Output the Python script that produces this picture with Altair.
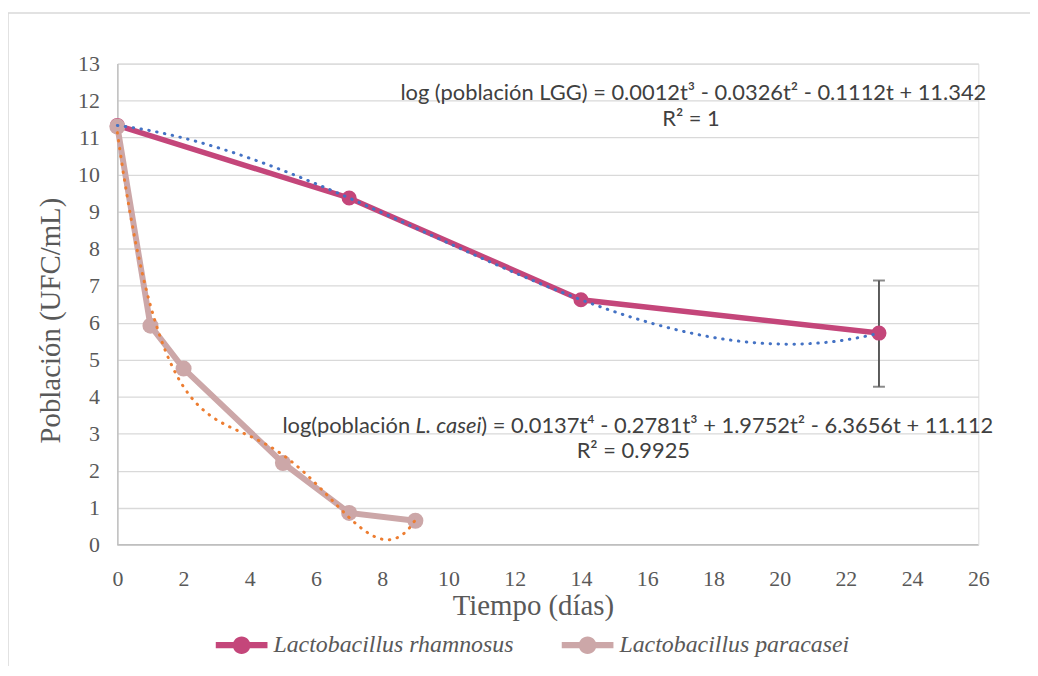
import altair as alt
import pandas as pd

# ---- data ----
rham_t = [0, 7, 14, 23]
rham_v = [11.33, 9.37, 6.62, 5.72]
casei_t = [0, 1, 2, 5, 7, 9]
casei_v = [11.30, 5.92, 4.76, 2.21, 0.86, 0.65]
err_t = [23]
err_lo = [4.27]
err_hi = [7.14]
x_ticks = list(range(0, 27, 2))
y_ticks = list(range(0, 14))
series_names = ["Lactobacillus rhamnosus", "Lactobacillus paracasei"]
series_colors = ["#C4467A", "#CCA7A8"]
trend_colors = ["#4472C4", "#ED7D31"]
eq_lgg = "log (población LGG) = 0.0012t³ - 0.0326t² - 0.1112t + 11.342"
r2_lgg = "R² = 1"
eq_casei_a = "log(población "
eq_casei_b = "L. casei"
eq_casei_c = ") = 0.0137t⁴ - 0.2781t³ + 1.9752t² - 6.3656t + 11.112"
r2_casei = "R² = 0.9925"

rham = pd.DataFrame({"t": rham_t, "v": rham_v, "serie": series_names[0]})
casei = pd.DataFrame({"t": casei_t, "v": casei_v, "serie": series_names[1]})
err = pd.DataFrame({"t": err_t, "lo": err_lo, "hi": err_hi})
one = pd.DataFrame({"k": [0]})

GRAY = "#595959"
SERIF = "Liberation Serif, Times New Roman, serif"
EQF = "Lato"

xs = alt.Scale(domain=[0, 26], nice=False, zero=False)
ys = alt.Scale(domain=[0, 13], nice=False, zero=False)
x_axis = alt.Axis(values=x_ticks, title="Tiempo (días)", grid=False, ticks=False,
                  domain=False, labelOverlap=False, labelFlush=False,
                  labelFont=SERIF, labelFontSize=22, labelColor=GRAY,
                  titleFont=SERIF, titleFontSize=29, titleColor=GRAY,
                  titleFontWeight="normal", titleX=418, labelPadding=24, titlePadding=2)
y_axis = alt.Axis(values=y_ticks, title="Población (UFC/mL)", grid=True,
                  ticks=False, domain=True, labelOverlap=False,
                  labelFont=SERIF, labelFontSize=22, labelColor=GRAY,
                  titleFont=SERIF, titleFontSize=29, titleColor=GRAY,
                  titleFontWeight="normal", titleY=258, labelPadding=18, titlePadding=12)

X = alt.X("t:Q", scale=xs, axis=x_axis)
Y = alt.Y("v:Q", scale=ys, axis=y_axis)
color_scale = alt.Scale(domain=series_names, range=series_colors)

legend_path = ("M-1,-0.12H1V0.12H-1Z "
               "M-0.34,0A0.34,0.34,0,1,1,0.34,0A0.34,0.34,0,1,1,-0.34,0Z")

frame = alt.Chart(one).mark_rect(fillOpacity=0, stroke="#D9D9D9", strokeWidth=1.5).encode(
    x=alt.value(-110), x2=alt.value(1100), y=alt.value(-51), y2=alt.value(800))

bottom_line = alt.Chart(one).mark_rule(color="#BFBFBF", strokeWidth=1.5).encode(
    y=alt.Y(datum=0, scale=ys, axis=y_axis), x=alt.value(0), x2=alt.value(866))

line_r = alt.Chart(rham).mark_line(color=series_colors[0], strokeWidth=5.5).encode(x=X, y=Y)
line_c = alt.Chart(casei).mark_line(color=series_colors[1], strokeWidth=6).encode(x=X, y=Y)

err_rule = alt.Chart(err).mark_rule(color=GRAY, strokeWidth=2).encode(
    x=alt.X("t:Q", scale=xs, axis=x_axis), y=alt.Y("lo:Q", scale=ys, axis=y_axis), y2="hi:Q")
err_cap_lo = alt.Chart(err).mark_tick(color=GRAY, thickness=2, size=12, orient="horizontal").encode(
    x=alt.X("t:Q", scale=xs, axis=x_axis), y=alt.Y("lo:Q", scale=ys, axis=y_axis))
err_cap_hi = alt.Chart(err).mark_tick(color=GRAY, thickness=2, size=12, orient="horizontal").encode(
    x=alt.X("t:Q", scale=xs, axis=x_axis), y=alt.Y("hi:Q", scale=ys, axis=y_axis))

pts_r = alt.Chart(rham).mark_point(filled=True, opacity=1, size=230).encode(
    x=X, y=Y,
    color=alt.Color("serie:N", scale=color_scale, title=None,
                    legend=alt.Legend(orient="none", legendX=99, legendY=559,
                                      direction="horizontal", symbolType=legend_path,
                                      symbolSize=2704, symbolStrokeWidth=0,
                                      symbolOpacity=1,
                                      labelFont=SERIF, labelFontSize=24,
                                      labelFontStyle="italic", labelColor=GRAY,
                                      labelOffset=6, columnPadding=48,
                                      labelLimit=400)))
pts_c = alt.Chart(casei).mark_point(filled=True, opacity=1, size=260).encode(
    x=X, y=Y, color=alt.Color("serie:N", scale=color_scale))

trend_r = alt.Chart(rham).transform_regression(
    "t", "v", method="poly", order=3).mark_line(
    color=trend_colors[0], strokeWidth=3, strokeDash=[0.5, 7.5], strokeCap="round").encode(x=X, y=Y)
trend_c = alt.Chart(casei).transform_regression(
    "t", "v", method="poly", order=4).mark_line(
    color=trend_colors[1], strokeWidth=3, strokeDash=[0.5, 7.5], strokeCap="round").encode(x=X, y=Y)

def txt(s, x, y, align="left", style="normal"):
    return alt.Chart(one).mark_text(font=EQF, fontSize=22, color="#404040", align=align,
                                    baseline="middle", fontStyle=style).encode(
        x=alt.value(x), y=alt.value(y), text=alt.value(s))

texts = [
    txt(eq_lgg, 874, 30, align="right"),
    txt(r2_lgg, 577, 56, align="center"),
    txt(eq_casei_a, 166, 365),
    txt(eq_casei_b, 300, 365, style="italic"),
    txt(eq_casei_c, 366, 365),
    txt(r2_casei, 519, 390, align="center"),
]

chart = alt.layer(
    frame, bottom_line, line_r, line_c, err_rule, err_cap_lo, err_cap_hi,
    pts_r, pts_c, trend_r, trend_c, *texts
).properties(
    width=866, height=484,
    autosize=alt.AutoSizeParams(type="none"),
    padding={"left": 110, "top": 54, "right": 52, "bottom": 120},
).configure_view(stroke=None).configure(background="white").configure_axis(
    labelFont=SERIF, labelFontSize=22, labelColor=GRAY,
    titleFont=SERIF, titleFontWeight="normal", titleColor=GRAY,
    gridColor="#D9D9D9", gridWidth=1.3, domainColor="#BFBFBF", domainWidth=1.5,
)

chart.save("out.html", embed_options={"renderer": "svg", "actions": False})
